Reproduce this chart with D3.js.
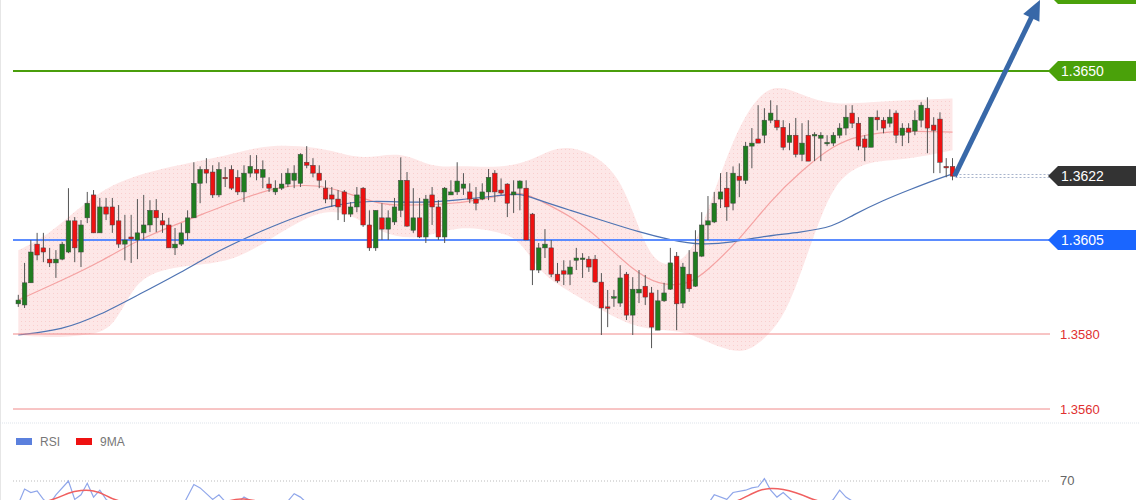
<!DOCTYPE html>
<html><head><meta charset="utf-8">
<script src="https://cdn.jsdelivr.net/npm/d3@7"></script>
<style>body{margin:0;background:#fff}svg{display:block;font-family:"Liberation Sans",Arial,sans-serif}</style>
</head><body><svg id="c" width="1140" height="500"></svg>
<script>
// prices in pips above BASE
const BASE = 1.35;
const O=[88.0,87.7,93.6,103.9,102.9,99.9,98.9,99.9,101.8,110.1,
101.8,110.9,117.0,106.9,113.8,113.8,110.1,103.9,105.8,105.0,
106.9,109.0,112.9,110.1,109.0,102.9,103.9,106.9,110.9,120.1,
123.8,123.1,117.0,121.7,123.8,121.7,117.8,122.8,123.8,121.7,
119.9,117.8,118.8,119.9,120.9,120.1,125.7,124.9,122.8,118.8,
117.0,115.9,117.8,111.9,113.8,118.8,109.0,102.9,110.9,107.9,
109.8,112.9,120.9,107.6,110.9,105.8,117.0,113.8,105.8,117.0,
117.8,118.8,117.8,115.9,115.9,117.8,122.8,118.3,119.9,117.0,
118.8,118.8,111.9,97.0,102.9,102.9,95.9,96.8,95.9,99.6,
99.9,99.9,99.9,93.8,87.2,89.6,88.2,95.9,85.0,90.9,
92.7,90.9,81.0,88.8,91.9,100.7,88.2,95.9,92.7,100.7,
109.0,109.8,115.9,118.8,114.8,122.0,120.9,130.0,131.9,132.9,
136.9,136.9,135.0,131.0,132.9,127.8,132.9,132.9,132.1,130.8,
130.8,132.9,134.8,138.8,136.1,131.9,129.7,137.7,136.9,136.1,
138.8,132.9,134.8,134.0,136.9,140.1,135.6,137.2,124.6,124.6];
const H=[90.4,98.9,105.0,106.9,106.9,102.9,102.3,104.5,118.8,111.1,
110.3,117.8,118.3,116.2,116.2,116.2,114.3,111.7,111.7,115.9,
117.0,115.6,115.9,112.2,110.9,108.2,109.5,112.9,125.7,124.6,
126.8,124.9,125.7,124.4,124.9,123.6,124.9,127.6,127.6,126.2,
121.7,120.9,122.8,124.1,124.9,128.1,130.0,126.8,124.9,120.9,
119.1,118.3,118.3,115.1,119.1,119.1,112.9,112.9,114.8,112.9,
116.2,127.0,123.1,118.8,116.2,117.0,119.1,115.6,119.1,120.9,
125.7,122.8,120.1,119.1,120.1,123.9,123.6,121.4,120.1,120.9,
120.9,120.9,112.2,104.2,107.9,105.0,98.9,99.6,99.6,102.9,
101.5,100.7,101.0,96.2,91.7,91.7,98.3,96.5,95.1,97.0,
95.7,92.5,91.7,93.6,102.9,101.8,98.9,102.3,107.6,112.4,
116.7,117.8,122.8,123.1,124.6,125.4,131.1,134.8,140.9,140.1,
142.2,140.9,136.9,136.1,137.5,136.1,136.9,133.7,133.7,132.9,
133.7,136.1,140.9,140.9,137.7,132.9,137.7,139.5,137.7,139.8,
139.5,136.1,136.1,139.5,141.7,143.0,137.7,139.0,126.8,126.8];
const L=[87.2,86.9,93.6,99.6,99.1,97.8,94.9,99.6,101.5,99.1,
97.8,109.5,106.9,106.9,110.3,106.9,102.9,99.6,98.9,99.9,
105.0,107.1,107.1,106.9,102.9,101.0,103.4,105.0,110.9,114.8,
120.1,116.2,116.4,119.1,118.3,117.0,115.1,121.7,120.9,118.8,
117.8,117.0,118.3,119.1,118.8,119.1,124.1,121.7,118.8,114.8,
113.8,110.3,109.8,111.1,112.4,108.5,102.1,102.1,105.0,105.0,
109.0,111.1,108.5,106.9,105.5,104.2,109.0,105.0,104.2,117.0,
117.0,117.0,114.8,112.9,115.6,115.6,115.1,117.0,111.1,112.2,
112.9,105.0,93.0,96.2,100.2,95.1,93.6,93.0,93.0,97.0,
94.9,96.5,93.6,79.7,81.8,87.2,87.2,83.7,79.7,88.2,
87.7,76.2,81.0,88.5,91.7,81.0,86.9,91.2,92.5,100.5,
105.0,109.5,113.5,110.1,112.9,116.4,119.9,124.1,130.8,130.8,
136.1,134.2,128.9,128.9,127.0,126.0,126.0,126.0,126.0,130.0,
130.0,132.1,132.9,134.8,128.9,126.0,129.7,134.2,133.4,135.0,
130.8,130.0,130.8,132.9,135.0,128.1,122.8,122.8,121.7,120.9];
const C=[89.0,93.6,101.8,101.0,101.8,98.9,99.9,103.9,110.1,102.9,
109.0,114.8,106.9,113.8,111.9,109.0,103.9,105.0,105.3,106.9,
109.0,112.9,110.9,109.0,102.9,103.9,106.9,110.9,120.1,123.8,
122.8,117.0,123.8,121.4,118.8,117.8,122.8,124.6,122.8,123.8,
118.8,118.8,119.9,122.8,122.8,127.8,124.9,122.8,120.9,115.9,
115.9,113.8,111.9,113.8,117.0,109.0,102.9,112.9,107.9,110.9,
113.8,120.9,108.7,110.9,105.8,115.9,113.8,105.8,118.8,117.8,
120.7,119.9,115.9,114.8,117.8,121.7,117.8,117.5,114.8,117.8,
120.7,105.0,97.0,102.9,103.9,95.9,94.1,95.9,97.8,100.2,
100.2,97.8,93.8,86.9,86.9,89.9,94.9,85.0,91.9,91.9,
89.8,81.8,88.8,90.9,98.9,88.0,97.8,92.0,101.8,109.0,
110.1,114.8,117.8,113.8,122.8,120.9,130.0,130.8,130.8,136.9,
138.8,135.0,129.7,132.9,127.8,130.8,126.0,133.1,132.9,131.0,
132.9,134.8,137.7,136.1,130.0,129.7,137.7,137.0,134.8,137.7,
132.9,134.8,133.7,136.9,140.9,134.8,134.2,125.7,124.4,122.0];

// indicators: [candle index, pips]
const bbUpper=[[0,102.3],[5,106.3],[13,118.8],[21,123.6],[34,127.6],[39,130.2],[45,130.2],[50,128.9],[55,126.2],[61,128.9],[66,124.1],[70,124.9],[77,124.1],[82,126.2],[86,130.2],[91,128.9],[96,122.2],[99,107.6],[102,97.0],[107,99.6],[110,112.9],[115,136.9],[120,147.5],[125,143.5],[130,140.9],[136,141.7],[141,142.2],[149,142.7]];
const bbLower=[[0,79.7],[5,78.9],[11,79.7],[15,81.0],[18,91.7],[21,96.4],[27,98.3],[34,99.1],[40,105.0],[45,110.3],[51,114.3],[58,106.3],[64,105.0],[70,109.0],[77,107.1],[80,105.0],[83,97.0],[86,93.0],[93,86.3],[99,81.0],[106,81.0],[109,78.4],[115,74.4],[118,77.0],[122,83.7],[125,97.0],[128,111.6],[131,122.2],[136,126.2],[141,126.2],[149,128.9]];
const bbMid=[[0,89.0],[7,94.3],[13,99.1],[19,105.0],[26,109.7],[29,111.6],[35,115.6],[42,119.6],[48,119.6],[51,118.3],[58,114.3],[61,114.3],[67,114.3],[74,115.6],[80,118.3],[83,115.6],[88,111.6],[93,105.0],[98,97.0],[102,93.0],[107,93.0],[110,97.0],[115,105.0],[120,115.6],[125,123.6],[130,130.2],[134,132.9],[141,134.2],[149,133.7]];
const maSlow=[[0,79.7],[7,81.0],[13,85.0],[19,90.3],[26,96.4],[32,102.3],[39,107.6],[45,111.6],[50,114.3],[56,115.6],[64,114.8],[70,115.6],[77,116.9],[80,117.5],[83,115.6],[88,112.9],[93,110.3],[99,107.1],[104,105.0],[109,103.6],[114,104.4],[118,105.8],[125,107.1],[130,108.5],[133,111.6],[138,115.6],[142,118.3],[147,121.5],[149,122.6]];
const rsi=[[0,60],[1,66.5],[2,65],[3,65.7],[4,62],[5,60],[6,64],[8,70],[9,62],[10,64],[11,69],[12,63],[13,66],[14,62],[16,58],[20,55],[26,58],[28,68.5],[29,67],[30,64.5],[31,62],[32,64],[34,58],[36,63],[38,60],[42,58],[44,64.5],[45,63],[47,58],[60,50],[80,55],[100,45],[110,60],[111,64],[113,62],[114,65],[116,66],[117,67],[118,67.5],[119,71],[120,66],[121,63],[122,65],[124,60],[128,58],[130,62],[131,66],[132,63],[135,58],[149,50]];
const rsiMA=[[0,58],[6,62],[8,65],[10,66],[12,66],[14,64],[16,60],[30,58],[34,62],[36,62.5],[38,61],[60,55],[100,50],[112,58],[116,63],[118,66],[120,67],[122,66.5],[124,65],[126,63],[128,60],[149,55]];

const levels=[{p:1.36705,label:"",type:"box",color:"#4aa10a",line:null},
{p:1.3650,label:"1.3650",type:"box",color:"#4aa10a",line:"#4a9e0c"},
{p:1.3622,label:"1.3622",type:"box",color:"#333333",line:"dot"},
{p:1.3605,label:"1.3605",type:"box",color:"#1a66ff",line:"#5b8cff"},
{p:1.3580,label:"1.3580",type:"text",color:"#e03030",line:"#f08a8a"},
{p:1.3560,label:"1.3560",type:"text",color:"#e03030",line:"#f08a8a"}];
const rsiLevel=70;
const arrowTarget=1.3670;

const svg=d3.select("#c");
const pr=v=>BASE+v/10000;
const x=d3.scaleLinear().domain([0,149]).range([18.3,952.5]);
const y=d3.scaleLinear().domain([1.3560,1.3650]).range([409,71]);
const yr=d3.scaleLinear().domain([30,70]).range([573,481]);

svg.append("line").attr("x1",0.5).attr("x2",0.5).attr("y1",0).attr("y2",500).attr("stroke","#e6e6e6");
svg.append("line").attr("x1",0).attr("x2",1140).attr("y1",423).attr("y2",423).attr("stroke","#dde3ea").attr("stroke-dasharray","1,1");

const defs=svg.append("defs");
const pat=defs.append("pattern").attr("id","dots").attr("width",4).attr("height",4).attr("patternUnits","userSpaceOnUse");
pat.append("rect").attr("width",4).attr("height",4).attr("fill","#fde4e4");
pat.append("rect").attr("x",1).attr("y",1).attr("width",1).attr("height",1).attr("fill","#f8c8c8");

const upperLine=d3.line().x(d=>x(d[0])).y(d=>y(pr(d[1]))).curve(d3.curveBasis);
const areaPath=upperLine(bbUpper)+"L"+upperLine(bbLower.slice().reverse()).slice(1)+"Z";
svg.append("path").attr("d",areaPath).attr("fill","url(#dots)").attr("opacity",0.9);
svg.append("path").attr("d",upperLine(bbMid)).attr("fill","none").attr("stroke","#f5a3a3").attr("stroke-width",1.2);
svg.append("path").attr("d",upperLine(maSlow)).attr("fill","none").attr("stroke","#4f74b3").attr("stroke-width",1.2);

levels.forEach(l=>{
  const yy=Math.round(y(l.p));
  if(l.line==="dot"){
    svg.append("line").attr("x1",x(149)+3).attr("x2",1050).attr("y1",yy-1.5).attr("y2",yy-1.5).attr("stroke","#a8b4cc").attr("stroke-dasharray","2,2");
    svg.append("line").attr("x1",x(149)+3).attr("x2",1050).attr("y1",yy+1.5).attr("y2",yy+1.5).attr("stroke","#a8b4cc").attr("stroke-dasharray","2,2");
  } else if(l.line){
    svg.append("line").attr("x1",13).attr("x2",1050).attr("y1",yy).attr("y2",yy).attr("stroke",l.line).attr("stroke-width",l.type==="box"?2:1);
  }
  if(l.type==="box"){
    const h=20,x0=1048;
    svg.append("path").attr("d",`M${x0},${yy}L${x0+10},${yy-h/2}L1136,${yy-h/2}L1136,${yy+h/2}L${x0+10},${yy+h/2}Z`).attr("fill",l.color);
    if(l.label) svg.append("text").attr("x",1061).attr("y",yy+5).attr("fill","#fff").attr("font-size",14).text(l.label);
  } else {
    svg.append("text").attr("x",1060).attr("y",yy+5).attr("fill",l.color).attr("font-size",13).text(l.label);
  }
});

const idx=d3.range(O.length);
const g=svg.append("g");
g.selectAll("line.w").data(idx).join("line").attr("x1",i=>x(i)).attr("x2",i=>x(i))
 .attr("y1",i=>y(pr(H[i]))).attr("y2",i=>y(pr(L[i]))).attr("stroke","#555").attr("stroke-width",1);
g.selectAll("rect").data(idx).join("rect")
 .attr("x",i=>x(i)-2.3).attr("width",4.6)
 .attr("y",i=>y(pr(Math.max(O[i],C[i]))))
 .attr("height",i=>Math.max(1.5,y(pr(Math.min(O[i],C[i])))-y(pr(Math.max(O[i],C[i])))))
 .attr("fill",i=>C[i]>=O[i]?"#1f7d1f":"#ee1111").attr("stroke","#444").attr("stroke-width",0.5);

const ax0=x(149)+2, ay0=y(pr(C[149])), ax1=1040, ay1=y(arrowTarget)+4;
const ang=Math.atan2(ay1-ay0,ax1-ax0);
svg.append("line").attr("x1",ax0).attr("y1",ay0).attr("x2",ax1-12*Math.cos(ang)).attr("y2",ay1-12*Math.sin(ang)).attr("stroke","#3868a8").attr("stroke-width",5);
const hx=ax1, hy=ay1, bl=20, bw=9;
const bx=hx-bl*Math.cos(ang), by=hy-bl*Math.sin(ang);
svg.append("path").attr("d",`M${hx},${hy}L${bx+bw*Math.sin(ang)},${by-bw*Math.cos(ang)}L${bx-bw*Math.sin(ang)},${by+bw*Math.cos(ang)}Z`).attr("fill","#3868a8");

svg.append("rect").attr("x",16).attr("y",438).attr("width",16).attr("height",7).attr("fill","#5b80dd");
svg.append("text").attr("x",40).attr("y",446).attr("font-size",12).attr("fill","#777").text("RSI");
svg.append("rect").attr("x",76).attr("y",438).attr("width",16).attr("height",7).attr("fill","#ee1111");
svg.append("text").attr("x",100).attr("y",446).attr("font-size",12).attr("fill","#777").text("9MA");
svg.append("line").attr("x1",13).attr("x2",1050).attr("y1",yr(rsiLevel)).attr("y2",yr(rsiLevel)).attr("stroke","#bbb").attr("stroke-dasharray","1,2");
svg.append("text").attr("x",1060).attr("y",yr(rsiLevel)+4).attr("font-size",13).attr("fill","#666").text(String(rsiLevel));
const rl=d3.line().x(d=>x(d[0])).y(d=>yr(d[1]));
svg.append("path").attr("d",rl(rsi)).attr("fill","none").attr("stroke","#8fa6ea").attr("stroke-width",1.2);
svg.append("path").attr("d",rl.curve(d3.curveBasis)(rsiMA)).attr("fill","none").attr("stroke","#f06060").attr("stroke-width",1.5);
</script></body></html>
